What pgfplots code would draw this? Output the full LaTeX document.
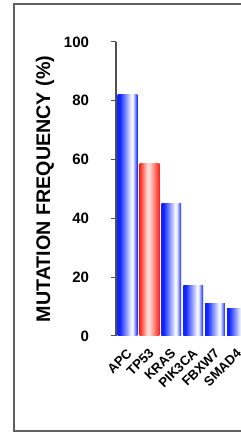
\documentclass[border=0pt]{standalone}
\usepackage{pgfplots}
\pgfplotsset{compat=1.18}
\usepackage{fontspec}
\setmainfont{Liberation Sans}
\definecolor{axgray}{RGB}{80,80,80}
\definecolor{framegray}{RGB}{95,95,95}
\pgfdeclarehorizontalshading{blueshade}{100bp}{rgb(0bp)=(0.06,0.14,1); rgb(25bp)=(0.06,0.14,1); rgb(30bp)=(0.06,0.14,1); rgb(45bp)=(0.5,0.56,1); rgb(60bp)=(0.98,0.98,1); rgb(64bp)=(0.9,0.92,1); rgb(75bp)=(0.06,0.14,1); rgb(100bp)=(0.06,0.14,1)}
\pgfdeclarehorizontalshading{redshade}{100bp}{rgb(0bp)=(1,0.14,0.08); rgb(25bp)=(1,0.14,0.08); rgb(45bp)=(1,0.88,0.86); rgb(52bp)=(1,0.8,0.78); rgb(75bp)=(1,0.14,0.08); rgb(100bp)=(1,0.14,0.08)}
\pgfplotsset{
  bluebar/.style={ybar, bar width=0.9, bar shift=0pt, draw=none, shade, shading=blueshade, shading angle=0},
  redbar/.style={ybar, bar width=0.9, bar shift=0pt, draw=none, shade, shading=redshade, shading angle=0},
}
\begin{document}
\begin{tikzpicture}
\useasboundingbox (0,0) rectangle (241pt,434pt);
\clip (0,0) rectangle (241pt,434pt);
\draw[framegray, line width=1.4pt] (260pt,3pt) -- (14pt,3pt) -- (14pt,430pt) -- (260pt,430pt);
\begin{axis}[
  at={(116pt,98pt)}, anchor=south west,
  scale only axis, width=134pt, height=294pt,
  xmin=-0.53, xmax=5.6, ymin=0, ymax=100,
  axis lines*=left,
  x axis line style={draw=none},
  y axis line style={axgray, line width=1pt},
  ytick={0,20,40,60,80,100},
  xtick={0,1,2,3,4,5},
  xticklabels={APC,TP53,KRAS,PIK3CA,FBXW7,SMAD4},
  xtick style={draw=none},
  ytick style={axgray, line width=1pt},
  tick align=outside, major tick length=4.5pt,
  yticklabel style={font=\fontsize{15}{16}\selectfont\bfseries, xshift=-19pt},
  xticklabel style={font=\fontsize{13.2}{15}\selectfont\bfseries, rotate=45, anchor=north east, inner sep=0pt, xshift=-6pt, yshift=-4pt},
  ylabel={MUTATION FREQUENCY (\%)},
  ylabel style={font=\fontsize{19.7}{21}\selectfont\bfseries, at={(axis description cs:-0.53,0.5)}, anchor=center},
  /pgf/number format/assume math mode=true,
  clip=false,
]
\addplot[bluebar] coordinates {(0,82)};
\addplot[redbar] coordinates {(1,58.8)};
\addplot[bluebar] coordinates {(2,45.2)};
\addplot[bluebar] coordinates {(3,17.3)};
\addplot[bluebar] coordinates {(4,11.2)};
\addplot[bluebar] coordinates {(5,9.5)};
\end{axis}
\end{tikzpicture}
\end{document}
